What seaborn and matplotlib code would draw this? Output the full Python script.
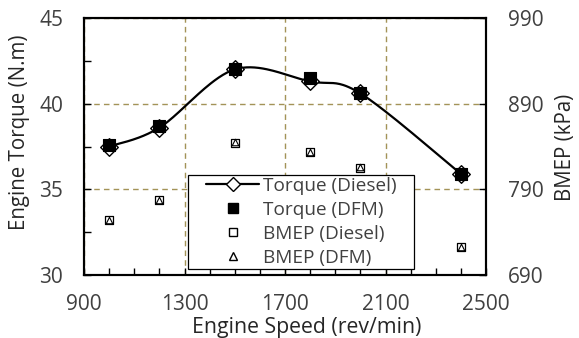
import numpy as np
import pandas as pd
import matplotlib
matplotlib.use("Agg")
import matplotlib.pyplot as plt
from matplotlib.lines import Line2D
from matplotlib.patches import Rectangle
from matplotlib.ticker import MultipleLocator
import seaborn as sns

# Engine speed (rev/min)
speed = [1000, 1200, 1500, 1800, 2000, 2400]
# Engine torque (N.m)
torque_diesel = [37.5, 38.6, 42.0, 41.3, 40.6, 35.9]
torque_dfm = [37.6, 38.7, 42.0, 41.5, 40.6, 35.9]
# Brake mean effective pressure (kPa)
bmep_diesel = [754, 778, 844, 834, 815, 723]
bmep_dfm = [754, 778, 845, 834, 816, 723]

x_ticks = [900, 1300, 1700, 2100, 2500]
left_ticks = [30, 35, 40, 45]
right_ticks = [690, 790, 890, 990]

sns.set_theme(style="white")
plt.rcParams["font.family"] = ["Open Sans", "DejaVu Sans"]
text_color = "#404040"
label_color = "#262626"
grid_color = "#a39357"


def smooth_curve(xs, ys, n=40):
    """Piecewise cubic Bezier smoothing through the points (Catmull-Rom style)."""
    p = np.column_stack([xs, ys]).astype(float)
    ext = np.vstack([p[0], p, p[-1]])
    out = []
    t = np.linspace(0, 1, n)[:, None]
    for i in range(len(p) - 1):
        p0, p1, p2, p3 = ext[i], ext[i + 1], ext[i + 2], ext[i + 3]
        c1 = p1 + (p2 - p0) / 6.0
        c2 = p2 - (p3 - p1) / 6.0
        seg = ((1 - t) ** 3) * p1 + 3 * ((1 - t) ** 2) * t * c1 + 3 * (1 - t) * t ** 2 * c2 + t ** 3 * p2
        out.append(seg if i == 0 else seg[1:])
    out = np.vstack(out)
    return out[:, 0], out[:, 1]


df = pd.DataFrame({
    "speed": speed,
    "torque_diesel": torque_diesel,
    "torque_dfm": torque_dfm,
    "bmep_diesel": bmep_diesel,
    "bmep_dfm": bmep_dfm,
})

fig = plt.figure(figsize=(5.79, 3.38), dpi=100)
ax = fig.add_axes([84 / 579, 1 - 275 / 338, 402 / 579, 257 / 338])
ax2 = ax.twinx()

# Torque curve (smoothed) for diesel
cx, cy = smooth_curve(df["speed"], df["torque_diesel"])
curve = pd.DataFrame({"x": cx, "y": cy})
sns.lineplot(data=curve, x="x", y="y", sort=False, color="black", lw=1.6, ax=ax, zorder=3)

sns.scatterplot(data=df, x="speed", y="torque_diesel", marker="D", s=80,
                facecolor="white", edgecolor="black", linewidth=1.0, ax=ax, zorder=4)
sns.scatterplot(data=df, x="speed", y="torque_dfm", marker="s", s=75,
                color="black", edgecolor="black", linewidth=0.8, ax=ax, zorder=5)

# BMEP on the secondary axis
sns.scatterplot(data=df, x="speed", y="bmep_diesel", marker="s", s=32,
                facecolor="white", edgecolor="black", linewidth=0.9, ax=ax2, zorder=4)
sns.scatterplot(data=df, x="speed", y="bmep_dfm", marker="^", s=22,
                facecolor="white", edgecolor="black", linewidth=0.8, ax=ax2, zorder=5)

ax.set_xlim(900, 2500)
ax.set_ylim(30, 45)
ax2.set_ylim(690, 990)
ax.set_xticks(x_ticks)
ax.set_xticklabels([str(v) for v in x_ticks])
ax.set_yticks(left_ticks)
ax.set_yticklabels([str(v) for v in left_ticks])
ax2.set_yticks(right_ticks)
ax2.set_yticklabels([str(v) for v in right_ticks])
ax.xaxis.set_minor_locator(MultipleLocator(100))
ax.yaxis.set_minor_locator(MultipleLocator(2.5))

ax.grid(True, which="major", color=grid_color, linestyle=(0, (4, 3)), linewidth=1.0)
ax.set_axisbelow(True)

for a in (ax, ax2):
    for sp in a.spines.values():
        sp.set_color("black")
        sp.set_linewidth(1.5)

ax.tick_params(axis="x", which="major", direction="in", length=5, width=1.0,
               colors="black", labelcolor=text_color, labelsize=15, pad=14)
ax.tick_params(axis="y", which="major", direction="in", length=5, width=1.0,
               colors="black", labelcolor=text_color, labelsize=15, pad=15)
ax.tick_params(axis="both", which="minor", direction="in", length=5, width=1.0, colors="black")
ax.tick_params(axis="y", which="both", left=True)
ax.tick_params(axis="x", which="both", bottom=True)
ax2.tick_params(axis="y", which="major", direction="in", length=5, width=1.0,
                colors="black", labelcolor=text_color, labelsize=15, pad=16, right=True)

ax.set_xlabel("Engine Speed (rev/min)", fontsize=15.3, color=label_color)
ax.xaxis.set_label_coords((307 - 84) / 402, -(327 - 275) / 257)
ax.xaxis.label.set_va("center")
ax.set_ylabel("Engine Torque (N.m)", fontsize=14.8, color=label_color)
ax.yaxis.set_label_coords(-(84 - 20) / 402, (275 - 132) / 257)
ax.yaxis.label.set_va("center")
ax2.set_ylabel("BMEP (kPa)", fontsize=14.8, color=label_color)
ax2.yaxis.set_label_coords((566 - 84) / 402, (275 - 147) / 257)
ax2.yaxis.label.set_va("center")

handles = [
    Line2D([], [], color="black", lw=1.6, marker="D", markersize=7,
           markerfacecolor="white", markeredgecolor="black"),
    Line2D([], [], color="none", marker="s", markersize=7,
           markerfacecolor="black", markeredgecolor="black"),
    Line2D([], [], color="none", marker="s", markersize=6,
           markerfacecolor="white", markeredgecolor="black"),
    Line2D([], [], color="none", marker="^", markersize=6,
           markerfacecolor="white", markeredgecolor="black"),
]
labels = ["Torque (Diesel)", "Torque (DFM)", "BMEP (Diesel)", "BMEP (DFM)"]

# Legend frame as a plain box, wider than the entries
box_x0, box_x1 = (188 - 84) / 402, (414 - 84) / 402
box_y0, box_y1 = (275 - 269) / 257, (275 - 175) / 257
frame = Rectangle((box_x0, box_y0), box_x1 - box_x0, box_y1 - box_y0,
                  transform=ax2.transAxes, facecolor="white", edgecolor="black",
                  linewidth=0.9, zorder=9)
ax2.add_patch(frame)

leg = ax2.legend(handles, labels, loc="center left",
                 bbox_to_anchor=((206 - 84) / 402, (box_y0 + box_y1) / 2),
                 frameon=False, fontsize=13.7, handlelength=2.8, handletextpad=0.2,
                 labelspacing=0.32, borderpad=0, borderaxespad=0)
for t in leg.get_texts():
    t.set_color(text_color)
leg.set_zorder(10)

fig.savefig("out.png", dpi=100)
